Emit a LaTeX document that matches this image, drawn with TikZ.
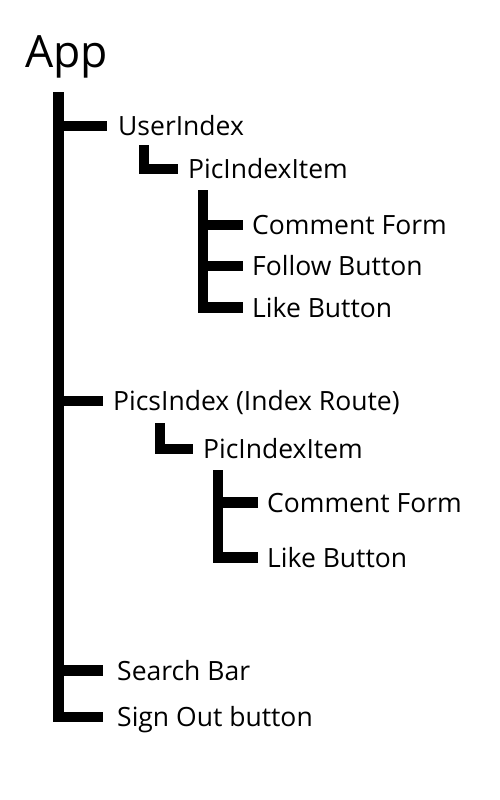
\documentclass[tikz,border=0pt]{standalone}
\usepackage{fontspec}
\setmainfont{Open Sans}
\begin{document}
\begin{tikzpicture}[x=1pt,y=-1pt,
  bar/.style={line width=10.5pt,line join=miter,line cap=butt},
  item/.style={anchor=west,inner sep=0pt,font=\fontsize{26.5}{30}\selectfont,
    text height=19pt,text depth=0pt}]
\useasboundingbox (0,0) rectangle (500,800);

% labels
\node[anchor=base west,inner sep=0pt,font=\fontsize{44.5}{47}\selectfont] (app) at (25,67) {App};
\node[item] (userindex) at (118,126) {UserIndex};
\node[item] (pii1) at (188,169) {PicIndexItem};
\node[item] (cf1) at (252,225) {Comment Form};
\node[item] (fb1) at (252,266) {Follow Button};
\node[item] (lb1) at (252,307.5) {Like Button};
\node[item] (picsindex) at (113,401) {PicsIndex (Index Route)};
\node[item] (pii2) at (203,449) {PicIndexItem};
\node[item] (cf2) at (267,502.5) {Comment Form};
\node[item] (lb2) at (267,557.5) {Like Button};
\node[item] (search) at (117,670.5) {Search Bar};
\node[item] (signout) at (117,717) {Sign Out button};

% tops of the vertical bars
\coordinate (spine) at (58.5,92);
\coordinate (u1) at (143.5,145);
\coordinate (u2) at (203,190);
\coordinate (p1) at (159.5,423);
\coordinate (p2) at (218,470);

% App level
\draw[bar] (spine) |- ([xshift=-14pt]signout.west);
\draw[bar] (spine |- userindex.west) -- ([xshift=-11pt]userindex.west);
\draw[bar] (spine |- picsindex.west) -- ([xshift=-10pt]picsindex.west);
\draw[bar] (spine |- search.west) -- ([xshift=-14pt]search.west);

% UserIndex subtree
\draw[bar,line width=10pt] (u1) |- ([xshift=-10pt]pii1.west);
\draw[bar] (u2) |- ([xshift=-9pt]lb1.west);
\draw[bar] (u2 |- cf1.west) -- ([xshift=-9pt]cf1.west);
\draw[bar] (u2 |- fb1.west) -- ([xshift=-9pt]fb1.west);

% PicsIndex subtree
\draw[bar,line width=10pt] (p1) |- ([xshift=-10pt]pii2.west);
\draw[bar] (p2) |- ([xshift=-9pt]lb2.west);
\draw[bar] (p2 |- cf2.west) -- ([xshift=-9pt]cf2.west);
\end{tikzpicture}
\end{document}
